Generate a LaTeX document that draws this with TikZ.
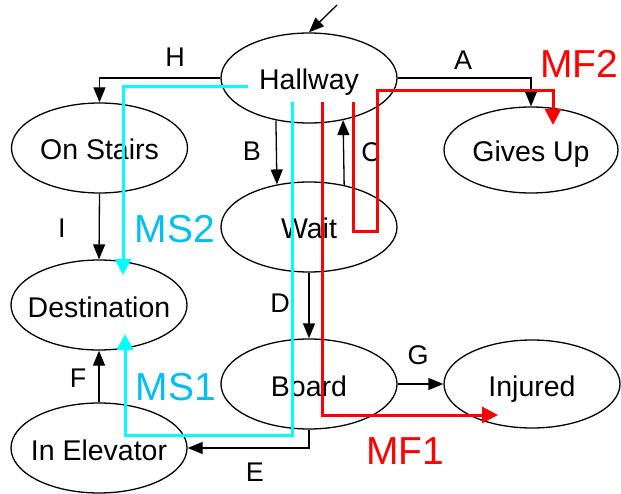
\documentclass[tikz,border=0pt]{standalone}
\usepackage{fontspec}
\setmainfont{Liberation Sans}
\usetikzlibrary{arrows.meta,shapes.geometric}
\definecolor{mscyan}{RGB}{0,255,255}
\definecolor{mstext}{RGB}{0,190,240}
\definecolor{mfred}{RGB}{255,0,0}
\tikzset{
  state/.style={ellipse,draw=black,line width=1.3pt,fill=white,
    minimum width=176pt,minimum height=90pt,inner sep=0pt,
    text height=24pt,text depth=0pt,
    font=\fontsize{28.5}{30}\selectfont},
  trans/.style={draw=black,line width=1.3pt,-{Triangle[length=15pt,width=12pt]}},
  lbl/.style={font=\fontsize{27}{30}\selectfont,inner sep=0pt},
  bigcyan/.style={font=\fontsize{39}{42}\selectfont,text=mstext,inner sep=0pt},
  bigred/.style={font=\fontsize{39}{42}\selectfont,text=mfred,inner sep=0pt},
  mspath/.style={draw=mscyan,line width=3pt,-{Triangle[length=16pt,width=16pt]}},
  mfpath/.style={draw=mfred,line width=3pt,-{Triangle[length=16pt,width=16pt]}},
}
% state name set in a zero-width box so that the ellipse keeps its fixed size
\newcommand{\stname}[1]{\makebox[0pt]{#1}}
\begin{document}
\begin{tikzpicture}[x=1pt,y=-1pt]
  \useasboundingbox (0,0) rectangle (621,494);

  % states
  \node[state] (hall)   at (309,78)  {\stname{Hallway}};
  \node[state] (stairs) at (99.5,148) {\stname{On Stairs}};
  \node[state,minimum width=174pt,minimum height=86pt] (gives) at (531,150) {\stname{Gives Up}};
  \node[state] (wait)   at (309,227) {\stname{Wait}};
  \node[state] (dest)   at (99,305)  {\stname{Destination}};
  \node[state] (board)  at (309,384) {\stname{Board}};
  \node[state,minimum height=88pt] (inj) at (532,384) {\stname{Injured}};
  \node[state] (elev)   at (99,448)  {\stname{In Elevator}};

  % entry into the hallway
  \coordinate (entry) at (337,5);
  \draw[trans] (entry) -- (hall.north);

  % transitions
  \draw[trans] (hall.west) -| (stairs.north);
  \draw[trans] (hall.east) -| (gives.north);
  \draw[trans] (hall.232.6) -- (wait.127.4);
  \draw[trans] (wait.50.7) -- (hall.309.3);
  \draw[trans] (wait.south) -- (board.north);
  \draw[trans] (board.east) -- (inj.west);
  \draw[trans] (board.south) |- (elev.east);
  \draw[trans] (elev.north) -- (dest.south);
  \draw[trans] (stairs.south) -- (dest.north);

  % transition labels
  \node[lbl] (lH) at (175,57)  {H};
  \node[lbl] (lA) at (463,60)  {A};
  \node[lbl] (lB) at (252,151) {B};
  \node[lbl] (lC) at (371,152) {C};
  \node[lbl] (lI) at (62,228)  {I};
  \node[lbl] (lD) at (280,303) {D};
  \node[lbl] (lG) at (418,355) {G};
  \node[lbl] (lF) at (78,378)  {F};
  \node[lbl] (lE) at (255,472) {E};

  % success scenarios
  \coordinate (ms2a) at (248,87);
  \coordinate (ms2b) at (123,87);
  \coordinate (ms2c) at (123,275);
  \draw[mspath] (ms2a) -- (ms2b) -- (ms2c);

  \coordinate (ms1a) at (292,102);
  \coordinate (ms1b) at (292,435);
  \coordinate (ms1c) at (125,435);
  \coordinate (ms1d) at (125,334);
  \draw[mspath] (ms1a) -- (ms1b) -- (ms1c) -- (ms1d);

  % failure scenarios
  \coordinate (mf1a) at (322,102);
  \coordinate (mf1b) at (322,415);
  \coordinate (mf1c) at (498,415);
  \draw[mfpath] (mf1a) -- (mf1b) -- (mf1c);

  \coordinate (mf2a) at (353,102);
  \coordinate (mf2b) at (353,232);
  \coordinate (mf2c) at (377,232);
  \coordinate (mf2d) at (377,91);
  \coordinate (mf2e) at (553,91);
  \coordinate (mf2f) at (553,125);
  \draw[mfpath] (mf2a) -- (mf2b) -- (mf2c) -- (mf2d) -- (mf2e) -- (mf2f);

  % scenario labels
  \node[bigcyan] (tms2) at (175,229) {MS2};
  \node[bigcyan] (tms1) at (176,387) {MS1};
  \node[bigred]  (tmf1) at (405,451) {MF1};
  \node[bigred]  (tmf2) at (579,64)  {MF2};
\end{tikzpicture}
\end{document}
